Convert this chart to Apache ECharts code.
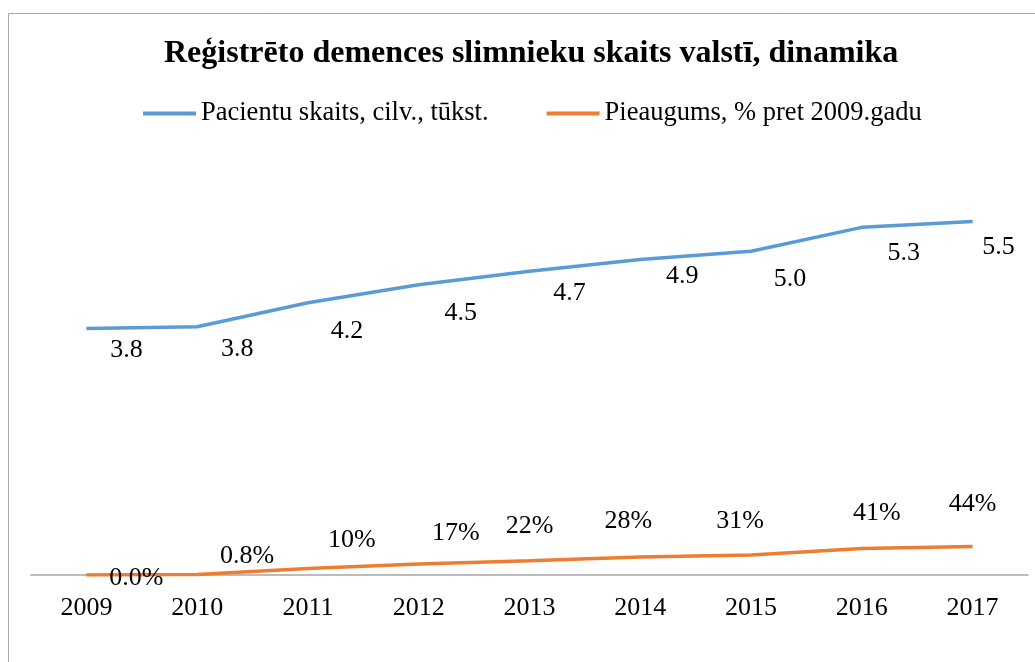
<!DOCTYPE html>
<html>
<head>
<meta charset="utf-8">
<script src="https://cdn.jsdelivr.net/npm/echarts@6/dist/echarts.min.js"></script>
<style>
html,body{margin:0;padding:0;background:#fff;}
#chart{width:1035px;height:662px;}
</style>
</head>
<body>
<div id="chart"></div>
<script>
// ---- data ----
const years = ['2009','2010','2011','2012','2013','2014','2015','2016','2017'];
const patients = [3.82, 3.85, 4.22, 4.50, 4.71, 4.89, 5.02, 5.39, 5.48];
const patientLabels = ['3.8','3.8','4.2','4.5','4.7','4.9','5.0','5.3','5.5'];
const growth = [0.0, 0.008, 0.10, 0.17, 0.22, 0.28, 0.31, 0.41, 0.44];
const growthLabels = ['0.0%','0.8%','10%','17%','22%','28%','31%','41%','44%'];
const seriesNames = ['Pacientu skaits, cilv., tūkst.', 'Pieaugums, % pret 2009.gadu'];
const titleText = 'Reģistrēto demences slimnieku skaits valstī, dinamika';

// ---- layout (label nudges, px) ----
const blueNudge = [[40,22],[40,22],[39,28],[42,28],[40,22],[42,17],[39,28],[42,26],[26,26]];
const orangeNudge = [[50,3],[50,-18],[44,-28],[37,-31],[0,-35],[-12,-36],[-11,-34],[15,-35],[0,-42]];

const FONT = "'Liberation Serif','Times New Roman',serif";
const chart = echarts.init(document.getElementById('chart'), null, {renderer:'canvas'});

function mkData(vals, nudges){
  return vals.map((v,i)=>({value:v, label:{offset:nudges[i]}}));
}

chart.setOption({
  animation:false,
  backgroundColor:'#fff',
  graphic:[{type:'rect', shape:{x:8.5,y:13.5,width:1100,height:800},
    style:{fill:'none',stroke:'#a6a6a6',lineWidth:1}, z:-10, silent:true}],
  title:{
    text:titleText, left:159, top:33,
    textStyle:{fontFamily:FONT,fontWeight:'bold',fontSize:32,color:'#000'}
  },
  legend:{
    left:138, top:95, itemWidth:53, itemHeight:4, itemGap:58, icon:'rect',
    textStyle:{fontFamily:FONT,fontSize:26.5,color:'#000'},
    data:seriesNames
  },
  grid:{left:31, right:7, top:188, bottom:87},
  xAxis:{
    type:'category', data:years, boundaryGap:true,
    axisLine:{show:true,lineStyle:{color:'#a6a6a6',width:1.5}},
    axisTick:{show:false},
    axisLabel:{fontFamily:FONT,fontSize:26,color:'#000',margin:20}
  },
  yAxis:{type:'value',min:0,max:6,show:false,splitLine:{show:false}},
  series:[
    {name:seriesNames[0], type:'line', data:mkData(patients,blueNudge),
     symbol:'circle', symbolSize:0.01, showSymbol:true,
     lineStyle:{color:'#5B9BD5',width:3.5}, itemStyle:{color:'#5B9BD5'},
     label:{show:true, position:'inside', align:'center', verticalAlign:'middle',
       fontFamily:FONT, fontSize:26, color:'#000',
       formatter:p=>patientLabels[p.dataIndex]}},
    {name:seriesNames[1], type:'line', data:mkData(growth,orangeNudge),
     symbol:'circle', symbolSize:0.01, showSymbol:true,
     lineStyle:{color:'#ED7D31',width:3.5}, itemStyle:{color:'#ED7D31'},
     label:{show:true, position:'inside', align:'center', verticalAlign:'middle',
       fontFamily:FONT, fontSize:26, color:'#000',
       formatter:p=>growthLabels[p.dataIndex]}}
  ]
});
</script>
</body>
</html>
